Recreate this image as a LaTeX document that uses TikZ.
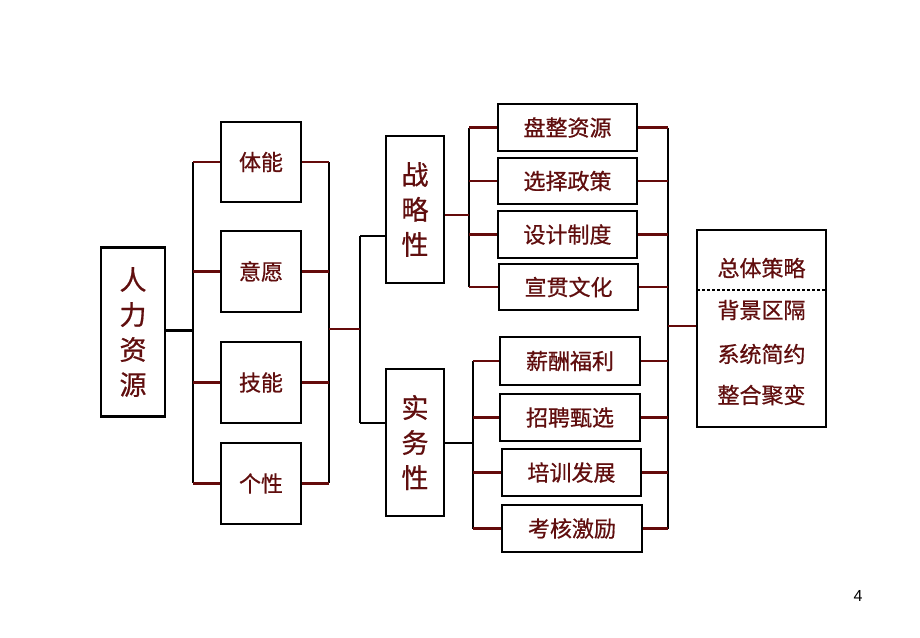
\documentclass[tikz,border=0pt]{standalone}
\usepackage{fontspec}
\setmainfont{Liberation Sans}
\newfontfamily\cjk[FakeBold=0.7]{Noto Sans CJK SC}
\definecolor{txtred}{RGB}{96,14,14}
\definecolor{linered}{RGB}{100,10,10}
\begin{document}
\begin{tikzpicture}[x=1pt,y=-1pt,
  box/.style={draw=black,line width=2.8pt,fill=white,inner sep=0pt,text=txtred,font=\cjk\fontsize{22}{26}\selectfont,align=center},
  vbox/.style={box,font=\cjk\fontsize{27}{35}\selectfont},
  hl/.style={draw=linered,line width=2.4pt},
  bl/.style={draw=black,line width=2.6pt},
  lbl/.style={text=txtred,font=\cjk\fontsize{22}{26}\selectfont,inner sep=0pt}]
\useasboundingbox (0,0) rectangle (920,637);
\fill[white] (0,0) rectangle (920,637);

% buses (coordinates)
\coordinate (bLt) at (193,162); \coordinate (bLb) at (193,483);
\coordinate (bRt) at (329,162); \coordinate (bRb) at (329,483);
\coordinate (b2t) at (360,236); \coordinate (b2b) at (360,423);
\coordinate (b3t) at (469,127.5); \coordinate (b3b) at (469,287);
\coordinate (b4t) at (473,361); \coordinate (b4b) at (473,528.5);
\coordinate (b5t) at (668,127.5); \coordinate (b5b) at (668,528.5);
\coordinate (j1) at (193,330.5);
\coordinate (j2) at (329,329); \coordinate (j2b) at (360,329);
\coordinate (j3) at (469,215);
\coordinate (j4) at (473,443);
\coordinate (j5) at (668,326);
\coordinate (dl) at (697,290); \coordinate (dr) at (826,290);

% nodes
\node[vbox,minimum width=64pt,minimum height=169pt] (hr) at (133,332) {人\\力\\资\\源};
\node[box,minimum width=80pt,minimum height=80pt] (tn) at (261,162) {体能};
\node[box,minimum width=80pt,minimum height=81pt] (yy) at (261,271.5) {意愿};
\node[box,minimum width=80pt,minimum height=81pt] (jn) at (261,382.5) {技能};
\node[box,minimum width=80pt,minimum height=81pt] (gx) at (261,483.5) {个性};
\node[vbox,minimum width=58pt,minimum height=147pt] (zl) at (415,209.5) {战\\略\\性};
\node[vbox,minimum width=58pt,minimum height=147pt] (sw) at (415,442.5) {实\\务\\性};
\node[box,minimum width=139pt,minimum height=47pt] (s1) at (567.5,127.5) {盘整资源};
\node[box,minimum width=139pt,minimum height=46pt] (s2) at (567.5,181) {选择政策};
\node[box,minimum width=139pt,minimum height=47pt] (s3) at (567.5,234.5) {设计制度};
\node[box,minimum width=139pt,minimum height=46pt] (s4) at (568.5,287) {宣贯文化};
\node[box,minimum width=140pt,minimum height=48pt] (p1) at (570,361) {薪酬福利};
\node[box,minimum width=140pt,minimum height=47pt] (p2) at (570,417.5) {招聘甄选};
\node[box,minimum width=139pt,minimum height=47pt] (p3) at (571.5,472.5) {培训发展};
\node[box,minimum width=140pt,minimum height=47pt] (p4) at (572,528.5) {考核激励};
\node[box,minimum width=129pt,minimum height=197pt] (rb) at (761.5,328.5) {};
\node[lbl] (r1) at (761.5,268) {总体策略};
\node[lbl] (r2) at (761.5,310) {背景区隔};
\node[lbl] (r3) at (761.5,354) {系统简约};
\node[lbl] (r4) at (761.5,395) {整合聚变};
\draw[black,line width=2.8pt,dash pattern=on 2.6pt off 2.4pt] (dl) -- (dr);
\node[font=\fontsize{16}{18}\selectfont,inner sep=0pt] (pg) at (858,596) {4};

% vertical buses
\draw[bl] (bLt) -- (bLb);
\draw[bl] (bRt) -- (bRb);
\draw[bl] (b2t) -- (b2b);
\draw[bl] (b3t) -- (b3b);
\draw[bl] (b4t) -- (b4b);
\draw[bl] (b5t) -- (b5b);

% connectors
\draw[bl] (hr.east |- j1) -- (j1);
\foreach \n in {tn,yy,jn,gx}{
  \draw[hl] (\n.west) -- (\n.west -| bLt);
  \draw[hl] (\n.east) -- (\n.east -| bRt);
}
\draw[hl] (j2) -- (j2b);
\draw[bl] (b2t) -- (zl.west |- b2t);
\draw[bl] (b2b) -- (sw.west |- b2b);
\draw[hl] (zl.east |- j3) -- (j3);
\draw[bl] (sw.east |- j4) -- (j4);
\foreach \n in {s1,s2,s3,s4}{
  \draw[hl] (\n.west) -- (\n.west -| b3t);
  \draw[hl] (\n.east) -- (\n.east -| b5t);
}
\foreach \n in {p1,p2,p3,p4}{
  \draw[hl] (\n.west) -- (\n.west -| b4t);
  \draw[hl] (\n.east) -- (\n.east -| b5t);
}
\draw[hl] (j5) -- (rb.west |- j5);
\end{tikzpicture}
\end{document}
